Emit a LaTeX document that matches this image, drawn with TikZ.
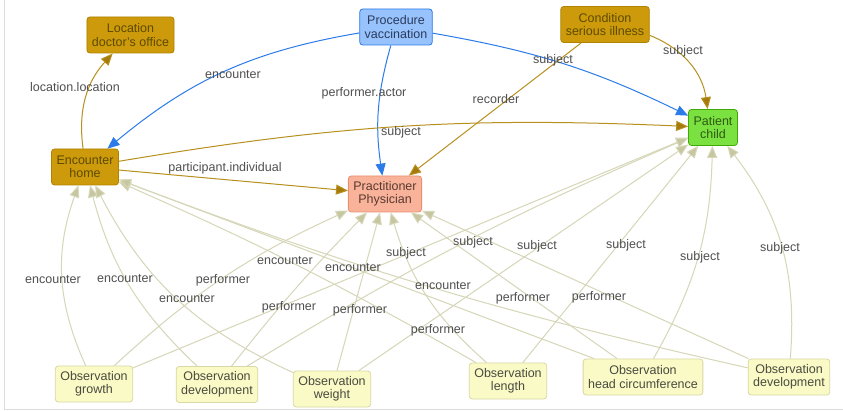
\documentclass[tikz,border=0pt]{standalone}
\usepackage{fontspec}
\setmainfont{Liberation Sans}
\usetikzlibrary{arrows.meta}
\definecolor{goldfill}{HTML}{CC9A0A}
\definecolor{golddraw}{HTML}{B08300}
\definecolor{goldtext}{HTML}{5E4B00}
\definecolor{bluefill}{HTML}{97C2FC}
\definecolor{bluedraw}{HTML}{2B7CE9}
\definecolor{bluetext}{HTML}{2A3B5E}
\definecolor{greenfill}{HTML}{7BE141}
\definecolor{greendraw}{HTML}{41A906}
\definecolor{greentext}{HTML}{2E5A12}
\definecolor{salmonfill}{HTML}{F9B39A}
\definecolor{salmondraw}{HTML}{E8906E}
\definecolor{salmontext}{HTML}{5A3A30}
\definecolor{obsfill}{HTML}{FAFAC6}
\definecolor{obsdraw}{HTML}{D8D8A6}
\definecolor{obstext}{HTML}{4A4A40}
\definecolor{edgeblue}{HTML}{2B7CE9}
\definecolor{edgegold}{HTML}{B8901E}
\definecolor{tipgold}{HTML}{A47A0C}
\definecolor{edgelight}{HTML}{D6D6B8}
\definecolor{tiplight}{HTML}{C6C6A0}
\definecolor{lbltext}{HTML}{505050}
\definecolor{framegray}{HTML}{DDDDDD}
\tikzset{
  nd/.style={rectangle, rounded corners=3pt, line width=0.8pt, align=center,
    font=\fontsize{12.5}{13.5}\selectfont, inner xsep=5pt, inner ysep=3pt, minimum height=36pt},
  goldnode/.style={nd, fill=goldfill, draw=golddraw, text=goldtext},
  bluenode/.style={nd, fill=bluefill, draw=bluedraw, text=bluetext},
  greennode/.style={nd, fill=greenfill, draw=greendraw, text=greentext},
  salmonnode/.style={nd, fill=salmonfill, draw=salmondraw, text=salmontext},
  obsnode/.style={nd, fill=obsfill, draw=obsdraw, text=obstext},
  lbl/.style={font=\fontsize{12.5}{13.5}\selectfont, text=lbltext, inner sep=1pt},
  blueedge/.style={draw=edgeblue, line width=1pt, -{Triangle[length=12pt,width=10pt,fill=edgeblue]}},
  goldedge/.style={draw=edgegold, line width=1pt, -{Triangle[length=12pt,width=10pt,fill=tipgold]}},
  lightedge/.style={draw=edgelight, line width=1pt, -{Triangle[length=12pt,width=10pt,fill=tiplight]}},
}
\begin{document}
\begin{tikzpicture}[x=1pt,y=-1pt]
\useasboundingbox (0,0) rectangle (843,411);
\fill[white] (0,0) rectangle (843,411);
\draw[framegray, line width=1pt] (4,0) -- (4,409) -- (843,409);

% nodes
\node[goldnode] (loc) at (130.5,35) {Location\\doctor's office};
\node[bluenode] (proc) at (396,27) {Procedure\\vaccination};
\node[goldnode] (cond) at (605,24.5) {Condition\\serious illness};
\node[greennode] (pat) at (713,127.5) {Patient\\child};
\node[goldnode] (enc) at (85,167) {Encounter\\home};
\node[salmonnode] (prac) at (385,194) {Practitioner\\Physician};
\node[obsnode] (growth) at (94,384) {Observation\\growth};
\node[obsnode] (devA) at (217,384.5) {Observation\\development};
\node[obsnode] (weight) at (332,389) {Observation\\weight};
\node[obsnode] (length) at (508,381) {Observation\\length};
\node[obsnode] (head) at (643,377) {Observation\\head circumference};
\node[obsnode] (devB) at (789,377) {Observation\\development};

% light observation edges
\draw[lightedge] (growth) to[bend left=22] (enc);
\draw[lightedge] (devA) to[bend left=16] (enc);
\draw[lightedge] (weight) to[bend left=19] (enc);
\draw[lightedge] (length) to[bend right=3] (enc);
\draw[lightedge] (head) -- (enc);
\draw[lightedge] (devB) to[bend left=4] (enc);

\draw[lightedge] (growth) to[bend left=9] (prac);
\draw[lightedge] (devA) to[bend left=3] (prac);
\draw[lightedge] (weight) -- (prac);
\draw[lightedge] (length) to[bend left=16] (prac);
\draw[lightedge] (head) -- (prac);
\draw[lightedge] (devB) -- (prac);

\draw[lightedge] (growth) -- (pat);
\draw[lightedge] (devA) to[bend left=4] (pat);
\draw[lightedge] (weight) -- (pat);
\draw[lightedge] (length) -- (pat);
\draw[lightedge] (head) to[bend right=14] (pat);
\draw[lightedge] (devB) to[bend right=21] (pat);

% main edges
\draw[goldedge] (enc) to[bend left=25] (loc);
\draw[blueedge] (proc) to[bend right=15] (enc);
\draw[blueedge] (proc) to[bend right=12] (prac);
\draw[blueedge] (proc) to[bend left=8] (pat);
\draw[goldedge] (cond) -- (prac);
\draw[goldedge] (cond) to[bend left=30] (pat);
\draw[goldedge] (enc) to[bend left=6] (pat);
\draw[goldedge] (enc) -- (prac);

% labels
\node[lbl] (l1) at (75,87) {location.location};
\node[lbl] (l2) at (233,75) {encounter};
\node[lbl] (l3) at (364,93) {performer.actor};
\node[lbl] (l4) at (553,60) {subject};
\node[lbl] (l5) at (496,99) {recorder};
\node[lbl] (l6) at (683,51) {subject};
\node[lbl] (l7) at (401,132) {subject};
\node[lbl] (l8) at (225,168) {participant.individual};

\node[lbl] (e1) at (53,280) {encounter};
\node[lbl] (e2) at (125,279) {encounter};
\node[lbl] (e3) at (187,299) {encounter};
\node[lbl] (e4) at (285,261) {encounter};
\node[lbl] (e5) at (353,268) {encounter};
\node[lbl] (e6) at (443,286) {encounter};

\node[lbl] (p1) at (223,280) {performer};
\node[lbl] (p2) at (289,307) {performer};
\node[lbl] (p3) at (360,310) {performer};
\node[lbl] (p4) at (438,330) {performer};
\node[lbl] (p5) at (523,298) {performer};
\node[lbl] (p6) at (599,297) {performer};

\node[lbl] (s1) at (406,253) {subject};
\node[lbl] (s2) at (473,242) {subject};
\node[lbl] (s3) at (537,246) {subject};
\node[lbl] (s4) at (626,245) {subject};
\node[lbl] (s5) at (700,257) {subject};
\node[lbl] (s6) at (780,248) {subject};
\end{tikzpicture}
\end{document}
